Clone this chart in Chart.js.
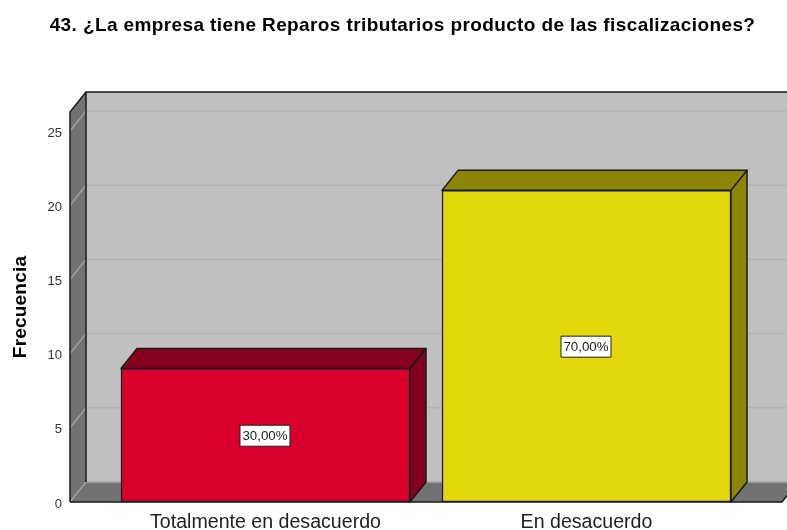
<!DOCTYPE html>
<html><head><meta charset="utf-8">
<style>html,body{margin:0;padding:0;background:#fff}canvas{display:block}</style>
<script src="https://cdn.jsdelivr.net/npm/chart.js@4"></script></head>
<body><canvas id="c" width="787" height="530"></canvas>
<script>
const chartTitle = '43. ¿La empresa tiene Reparos tributarios producto de las fiscalizaciones?';
const yTitle = 'Frecuencia';
const categories = ['Totalmente en desacuerdo', 'En desacuerdo'];
const frequencies = [9, 21];
const percentLabels = ['30,00%', '70,00%'];
const frontColors = ['#D9002E', '#E3D80C'];
const depthColors = ['#85001F', '#8C8505'];
const yTicks = [0, 5, 10, 15, 20, 25];
const DX = 16, DY = -20;
const FONT = '"Liberation Sans", Arial, sans-serif';

function spaced(obj, method, spacing) {
  const orig = obj[method];
  obj[method] = function (...args) {
    const ctx = this.ctx;
    ctx.letterSpacing = spacing;
    orig.apply(this, args);
    ctx.letterSpacing = '0px';
  };
}

const scene = {
  id: 'scene',
  afterLayout(chart) {
    const tb = chart.titleBlock;
    tb.left = 23;
    if (!tb._spaced) {
      tb._spaced = true;
      spaced(tb, 'draw', '0.39px');
      spaced(chart.scales.y, 'drawTitle', '0.2px');
    }
  },
  afterUpdate(chart) {
    chart.scales.y.getLabelItems().forEach(it => { it.options.translation[1] += 2; });
  },
  beforeDatasetsDraw(chart) {
    const { ctx, chartArea: a, scales: { y } } = chart;
    const L = a.left, R = a.right, T = a.top, B = a.bottom;
    ctx.save();
    ctx.fillStyle = '#C0C0C0';
    ctx.fillRect(L + DX, T + DY, chart.width - L - DX, B - T);
    ctx.fillStyle = '#737373';
    ctx.beginPath(); ctx.moveTo(L, T); ctx.lineTo(L + DX, T + DY); ctx.lineTo(L + DX, B + DY); ctx.lineTo(L, B); ctx.closePath(); ctx.fill();
    ctx.beginPath(); ctx.moveTo(L, B); ctx.lineTo(L + DX, B + DY); ctx.lineTo(R + DX, B + DY); ctx.lineTo(R, B); ctx.closePath(); ctx.fill();
    ctx.lineWidth = 1.5;
    yTicks.slice(1).forEach(v => {
      const p = y.getPixelForValue(v);
      ctx.strokeStyle = '#B3B3B3';
      ctx.beginPath(); ctx.moveTo(L + DX, p + DY); ctx.lineTo(chart.width, p + DY); ctx.stroke();
      ctx.strokeStyle = '#A0A0A0';
      ctx.beginPath(); ctx.moveTo(L, p); ctx.lineTo(L + DX, p + DY); ctx.stroke();
    });
    ctx.strokeStyle = '#A0A0A0';
    ctx.beginPath(); ctx.moveTo(L, B); ctx.lineTo(L + DX, B + DY); ctx.stroke();
    ctx.strokeStyle = '#A8A8A8';
    ctx.beginPath(); ctx.moveTo(L + DX, B + DY); ctx.lineTo(chart.width, B + DY); ctx.stroke();
    ctx.strokeStyle = '#1a1a1a';
    ctx.lineWidth = 1.5;
    ctx.beginPath();
    ctx.moveTo(L, B); ctx.lineTo(L, T); ctx.lineTo(L + DX, T + DY); ctx.lineTo(chart.width, T + DY);
    ctx.moveTo(L + DX, T + DY); ctx.lineTo(L + DX, B + DY);
    ctx.moveTo(L, B); ctx.lineTo(R, B); ctx.lineTo(R + DX, B + DY);
    ctx.stroke();
    ctx.restore();
  },
  afterDatasetsDraw(chart) {
    const { ctx } = chart;
    const bars = chart.getDatasetMeta(0).data;
    ctx.save();
    bars.forEach((b, i) => {
      const l = b.x - b.width / 2, r = b.x + b.width / 2, t = b.y, bt = b.base;
      ctx.fillStyle = depthColors[i];
      ctx.strokeStyle = '#1a1a1a';
      ctx.lineWidth = 1.5;
      ctx.lineJoin = 'round';
      ctx.beginPath(); ctx.moveTo(l, t); ctx.lineTo(l + DX, t + DY); ctx.lineTo(r + DX, t + DY); ctx.lineTo(r, t); ctx.closePath(); ctx.fill(); ctx.stroke();
      ctx.beginPath(); ctx.moveTo(r, t); ctx.lineTo(r + DX, t + DY); ctx.lineTo(r + DX, bt + DY); ctx.lineTo(r, bt); ctx.closePath(); ctx.fill(); ctx.stroke();
      const cx = b.x - 0.5, cy = (t + bt) / 2 + 0.5, w = 50, h = 21;
      ctx.fillStyle = '#fff';
      ctx.lineWidth = 1;
      ctx.strokeStyle = '#222';
      ctx.fillRect(cx - w / 2, cy - h / 2, w, h);
      ctx.strokeRect(cx - w / 2, cy - h / 2, w, h);
      ctx.fillStyle = '#222';
      ctx.font = '13.3px ' + FONT;
      ctx.textAlign = 'center';
      ctx.textBaseline = 'middle';
      ctx.fillText(percentLabels[i], cx, cy + 0.5);
    });
    ctx.restore();
  }
};

new Chart(document.getElementById('c'), {
  type: 'bar',
  data: {
    datasets: [{
      data: frequencies.map((v, i) => ({ x: i, y: v })),
      backgroundColor: frontColors,
      borderColor: '#1a1a1a',
      borderWidth: 1.5,
      borderSkipped: false,
      barThickness: 289,
      clip: false
    }]
  },
  plugins: [scene],
  options: {
    responsive: false,
    animation: false,
    layout: { autoPadding: false, padding: { left: 0, right: 5, top: 0, bottom: 0 } },
    plugins: {
      legend: { display: false },
      tooltip: { enabled: false },
      title: {
        display: true, text: chartTitle, color: '#000',
        font: { family: FONT, size: 19, weight: 'bold' },
        padding: { top: 14.6, bottom: 74.6 }
      }
    },
    scales: {
      x: {
        type: 'linear', min: -0.609, max: 1.609, offset: false,
        afterBuildTicks: s => { s.ticks = categories.map((c, i) => ({ value: i })); },
        afterFit: s => { s.height = 28; },
        grid: { display: false, drawTicks: false },
        border: { display: false },
        ticks: {
          callback: v => categories[v], color: '#222', padding: 9, maxRotation: 0, autoSkip: false,
          font: { family: FONT, size: 19.6 }
        }
      },
      y: {
        min: 0, max: 26.28,
        afterBuildTicks: s => { s.ticks = yTicks.map(v => ({ value: v })); },
        afterFit: s => { s.width = 70; },
        grid: { display: false, drawTicks: false },
        border: { display: false },
        title: {
          display: true, text: yTitle, color: '#000',
          font: { family: FONT, size: 19, weight: 'bold' }, padding: { top: 9, bottom: 0 }
        },
        ticks: { color: '#333', padding: 8, font: { family: FONT, size: 13 } }
      }
    }
  }
});
</script></body></html>
